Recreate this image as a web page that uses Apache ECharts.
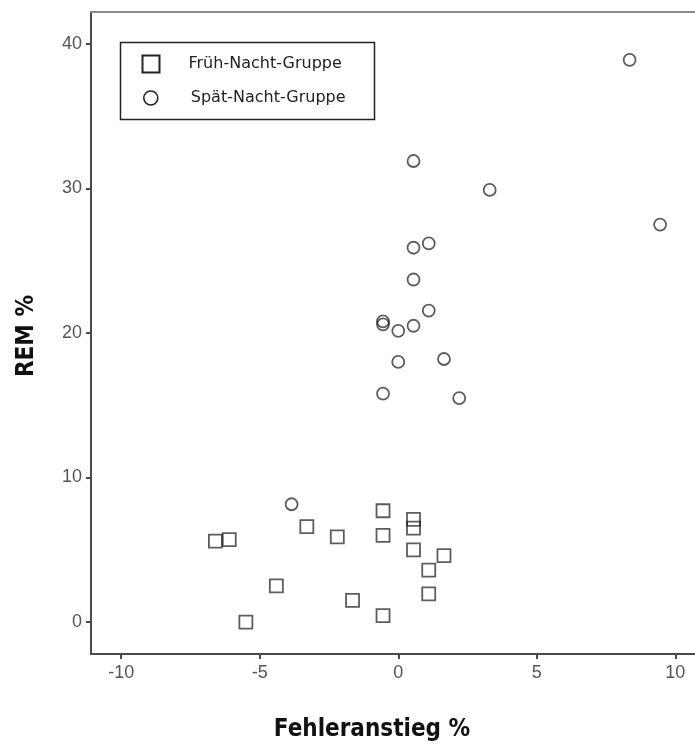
<!DOCTYPE html>
<html>
<head>
<meta charset="utf-8">
<title>REM % vs. Fehleranstieg %</title>
<script src="https://cdn.jsdelivr.net/npm/echarts@6/dist/echarts.min.js"></script>
<style>
  html, body { margin: 0; padding: 0; background: #fff; }
  #chart { width: 695px; height: 747px; }
</style>
</head>
<body>
<div id="chart"></div>
<script>
// Early-night group: [error increase %, REM %]
const fruehNacht = [
  [-6.6, 5.6], [-6.1, 5.7], [-3.3, 6.6], [-2.2, 5.9],
  [-0.55, 7.7], [-0.55, 6.0], [0.55, 7.1], [0.55, 6.5],
  [0.55, 5.0], [1.65, 4.6], [1.1, 3.6], [1.1, 1.95],
  [-4.4, 2.5], [-1.65, 1.5], [-0.55, 0.45], [-5.5, 0.0]
];
// Late-night group: [error increase %, REM %]
const spaetNacht = [
  [-3.85, 8.15], [0.55, 31.9], [3.3, 29.9], [0.55, 25.9],
  [1.1, 26.2], [0.55, 23.7], [1.1, 21.55], [-0.55, 20.6],
  [-0.55, 20.8], [0.0, 20.15], [0.55, 20.5], [0.0, 18.0],
  [1.65, 18.2], [-0.55, 15.8], [2.2, 15.5], [8.35, 38.9],
  [9.45, 27.5]
];
const seriesNames = ['Früh-Nacht-Gruppe', 'Spät-Nacht-Gruppe'];
const xTicks = [-10, -5, 0, 5, 10];
const yTicks = [0, 10, 20, 30, 40];

const titleFont = "'Liberation Sans Narrow', 'DejaVu Sans Condensed', 'Liberation Sans', sans-serif";
const tickFont = "'Liberation Sans', Arial, sans-serif";
const legendFont = "'DejaVu Sans', sans-serif";
const markStroke = 'rgba(30,30,30,0.72)';

const chart = echarts.init(document.getElementById('chart'), null, { renderer: 'canvas' });

chart.setOption({
  backgroundColor: '#ffffff',
  animation: false,
  grid: { left: 91, top: 12, right: 0, bottom: 91, containLabel: false },
  xAxis: [{
    type: 'value',
    min: -11.09,
    max: 10.71,
    name: 'Fehleranstieg %',
    nameLocation: 'middle',
    nameGap: 64,
    nameTextStyle: {
      fontFamily: titleFont, fontWeight: 'bold', fontSize: 24, color: '#111',
      padding: [0, 42, 0, 0]
    },
    axisLine: { show: true, onZero: false, lineStyle: { color: '#4a4a4a', width: 2 } },
    axisTick: { show: true, length: 5, customValues: xTicks, lineStyle: { color: '#4a4a4a', width: 2 } },
    axisLabel: {
      customValues: xTicks, margin: 10,
      fontFamily: tickFont, fontSize: 18, color: '#555'
    },
    splitLine: { show: false }
  }, {
    // top frame line
    type: 'value',
    position: 'top',
    min: -11.09,
    max: 10.71,
    axisLine: { show: true, onZero: false, lineStyle: { color: '#8a8a8a', width: 2 } },
    axisTick: { show: false },
    axisLabel: { show: false },
    splitLine: { show: false }
  }],
  yAxis: {
    type: 'value',
    min: -2.21,
    max: 42.21,
    name: 'REM %',
    nameLocation: 'middle',
    nameRotate: 90,
    nameGap: 52,
    nameTextStyle: {
      fontFamily: titleFont, fontWeight: 'bold', fontSize: 24, color: '#111',
      padding: [0, 6, 0, 0]
    },
    axisLine: { show: true, onZero: false, lineStyle: { color: '#4a4a4a', width: 2 } },
    axisTick: { show: true, length: 5, customValues: yTicks, lineStyle: { color: '#4a4a4a', width: 2 } },
    axisLabel: {
      customValues: yTicks, margin: 9,
      fontFamily: tickFont, fontSize: 18, color: '#555'
    },
    splitLine: { show: false }
  },
  legend: [{
    data: [seriesNames[0]],
    orient: 'vertical',
    left: 141.5,
    top: 54.5,
    padding: 0,
    itemWidth: 17,
    itemHeight: 17,
    icon: 'rect',
    itemStyle: { color: 'rgba(0,0,0,0)', borderColor: '#222', borderWidth: 2 },
    textStyle: {
      fontFamily: legendFont, fontSize: 16, color: '#222',
      padding: [0, 0, 0, 24]
    },
    selectedMode: false
  }, {
    data: [seriesNames[1]],
    orient: 'vertical',
    left: 143,
    top: 90,
    padding: 0,
    itemWidth: 14,
    itemHeight: 14,
    icon: 'circle',
    itemStyle: { color: 'rgba(0,0,0,0)', borderColor: '#222', borderWidth: 1.6 },
    textStyle: {
      fontFamily: legendFont, fontSize: 16, color: '#222',
      padding: [18, 0, 0, 28]
    },
    selectedMode: false
  }],
  graphic: [{
    type: 'rect',
    shape: { x: 120.5, y: 42.5, width: 254, height: 77 },
    style: { fill: 'none', stroke: '#222', lineWidth: 1.5 },
    z: 1
  }],
  series: [{
    name: seriesNames[0],
    type: 'scatter',
    symbol: 'rect',
    symbolSize: 13,
    data: fruehNacht,
    itemStyle: { color: 'rgba(0,0,0,0)', borderColor: markStroke, borderWidth: 1.8, opacity: 1 },
    emphasis: { disabled: true }
  }, {
    name: seriesNames[1],
    type: 'scatter',
    symbol: 'circle',
    symbolSize: 12,
    data: spaetNacht,
    itemStyle: { color: 'rgba(0,0,0,0)', borderColor: markStroke, borderWidth: 1.8, opacity: 1 },
    emphasis: { disabled: true }
  }]
});
</script>
</body>
</html>
